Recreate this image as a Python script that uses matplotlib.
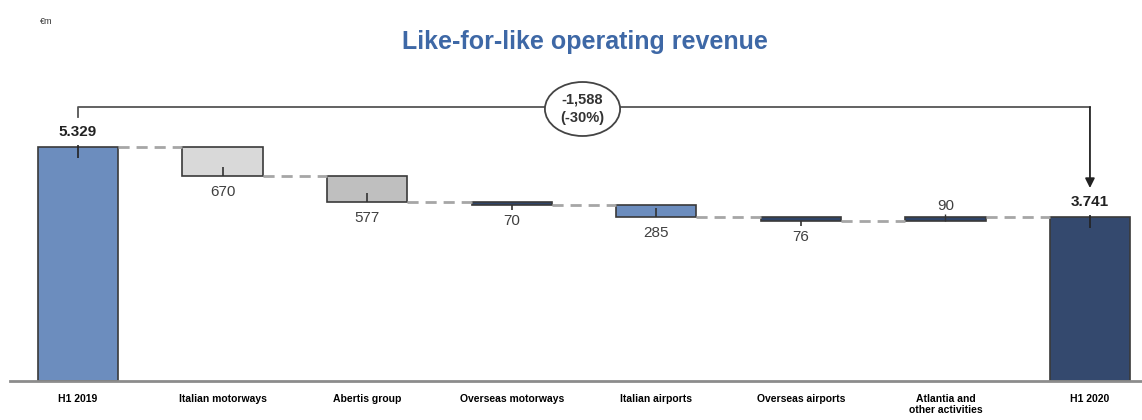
import matplotlib.pyplot as plt
from matplotlib.patches import Ellipse

categories = ["H1 2019", "Italian motorways", "Abertis group", "Overseas motorways",
              "Italian airports", "Overseas airports", "Atlantia and\nother activities", "H1 2020"]
start_total = 5329
changes = [-670, -577, -70, -285, -76, 90]
end_total = 3741
start_label = "5.329"
end_label = "3.741"
bridge_text = "-1,588\n(-30%)"
colors = ["#6C8DBE", "#D9D9D9", "#BFBFBF", "#2F4468", "#6C8DBE", "#2F4468", "#2F4468", "#34496E"]

fig = plt.figure(figsize=(11.42, 4.2), dpi=100)
ax = fig.add_axes([10 / 1142, 39 / 420, 1132 / 1142, 381 / 420])
ax.set_xlim(-0.47, 7.36)
ax.set_ylim(0, 381 / 0.04391)
px_y = 1 / 0.04391  # data units per pixel (vertical)

w = 0.555
edge = "#3A3A3A"

# totals
for i, val, lab in [(0, start_total, start_label), (7, end_total, end_label)]:
    ax.bar(i, val, width=w, color=colors[i], edgecolor=edge, linewidth=1.2)
    ax.vlines(i, val - 11 * px_y, val + 2 * px_y, color="#222222", lw=1.2)
    ax.text(i, val + 15 * px_y, lab, ha="center", va="center", fontsize=11,
            fontweight="bold", color="#222222", family="Liberation Sans")

# movements
level = start_total
for k, d in enumerate(changes):
    i = k + 1
    bottom = level + min(d, 0)
    top = level + max(d, 0)
    ax.bar(i, top - bottom, bottom=bottom, width=w, color=colors[i], edgecolor=edge, linewidth=1.2)
    if top - bottom > 9 * px_y:
        ax.vlines(i, bottom, bottom + 9 * px_y, color="#333333", lw=1.2)
    elif d < 0:
        ax.vlines(i, bottom - 5 * px_y, bottom, color="#333333", lw=1.2)
    else:
        ax.vlines(i, bottom, top + 3 * px_y, color="#333333", lw=1.0)
    # dashed connector from previous bar
    ax.plot([i - 1 + w / 2, i - w / 2], [level, level], ls=(0, (4, 2.5)), color="#A6A6A6", lw=2)
    if d < 0:
        ax.text(i, bottom - 16 * px_y, str(-d), ha="center", va="center", fontsize=11,
                color="#404040", family="Liberation Sans")
    else:
        ax.text(i, top + 11 * px_y, str(d), ha="center", va="center", fontsize=11,
                color="#404040", family="Liberation Sans")
    level += d
ax.plot([6 + w / 2, 7 - w / 2], [level, level], ls=(0, (4, 2.5)), color="#A6A6A6", lw=2)

# bracket with arrow
yb = 274 * px_y
ax.plot([0, 0, 7], [264 * px_y, yb, yb], color="#555555", lw=1.3)
ax.annotate("", xy=(7, 193 * px_y), xytext=(7, yb),
            arrowprops=dict(arrowstyle="-|>", color="#222222", lw=1.3, mutation_scale=14,
                            shrinkA=0, shrinkB=0))
ax.add_patch(Ellipse((3.49, 272 * px_y), 0.52, 54 * px_y, facecolor="white",
                     edgecolor="#444444", lw=1.3, zorder=5))
ax.text(3.49, 272 * px_y, bridge_text, ha="center", va="center", fontsize=10.5,
        fontweight="bold", color="#333333", linespacing=1.45, zorder=6, family="Liberation Sans")

# axes styling
for s in ["top", "right", "left"]:
    ax.spines[s].set_visible(False)
ax.spines["bottom"].set_color("#8C8C8C")
ax.spines["bottom"].set_linewidth(2)
ax.set_yticks([])
ax.set_xticks(range(len(categories)))
ax.set_xticklabels(categories, fontsize=7.5, fontweight="bold",
                   family=["Liberation Sans Narrow", "Liberation Sans"], linespacing=1.2)
ax.tick_params(axis="x", length=0, pad=9)

fig.text(585 / 1142, 1 - 42 / 420, "Like-for-like operating revenue", ha="center", va="center",
         fontsize=18, fontweight="bold", color="#3E68A6", family="Liberation Sans")
fig.text(40 / 1142, 1 - 22 / 420, "€m", ha="left", va="center", fontsize=6.5,
         color="#333333", family="Liberation Sans")

fig.savefig("out.png", dpi=100)
